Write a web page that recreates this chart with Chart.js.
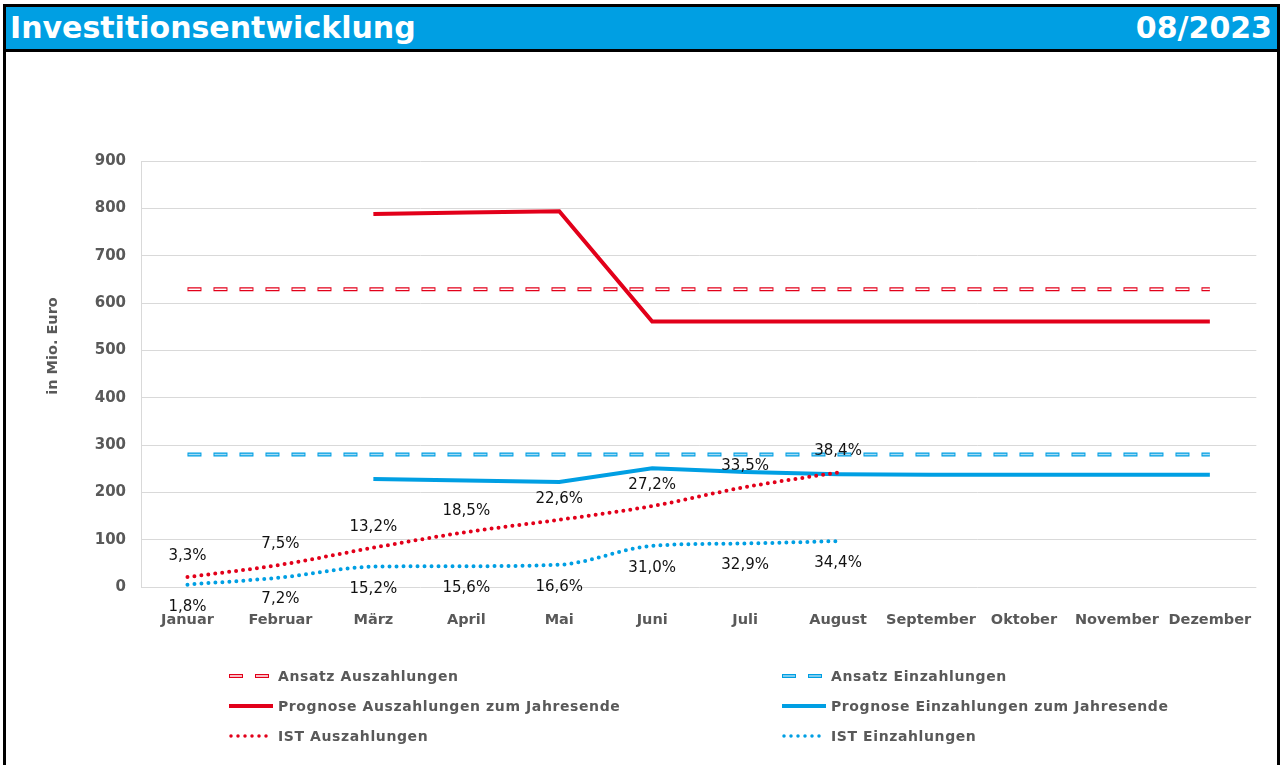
<!DOCTYPE html>
<html><head><meta charset="utf-8">
<script src="https://cdn.jsdelivr.net/npm/chart.js@4.4.0/dist/chart.umd.min.js"></script>
<style>
html,body{margin:0;padding:0;background:#fff;width:1282px;height:765px;overflow:hidden;font-family:"DejaVu Sans",Verdana,sans-serif;}
#frame{position:absolute;left:3px;top:4px;width:1271px;height:800px;border:3px solid #000;border-bottom:none;}
#hdr{position:absolute;left:0;top:0;width:1271px;height:42px;background:#009FE3;border-bottom:3px solid #000;color:#fff;font-weight:bold;font-size:30px;line-height:42px;}
#hdr .l{position:absolute;left:4px;top:0;}
#hdr .r{position:absolute;right:5px;top:0;}
#wrap{position:absolute;left:6px;top:52px;width:1271px;height:713px;}
#ytitle{position:absolute;left:-48px;top:337px;width:200px;height:18px;line-height:18px;text-align:center;transform:rotate(-90deg);font-weight:bold;font-size:14.5px;color:#595959;}
.lg{position:absolute;height:20px;display:flex;align-items:center;font-weight:bold;font-size:14px;letter-spacing:0.6px;color:#595959;white-space:nowrap;}
.lg svg{width:49px;height:20px;flex:none;}
</style>
</head><body>
<div id="frame"><div id="hdr"><span class="l">Investitionsentwicklung</span><span class="r">08/2023</span></div></div>
<div id="wrap"><canvas id="c"></canvas></div>
<div id="ytitle">in Mio. Euro</div>
<div id="legend"></div>
<script>
// ---- data ----
const categories = ['Januar','Februar','März','April','Mai','Juni','Juli','August','September','Oktober','November','Dezember'];
const ansatzAus = [629,629,629,629,629,629,629,629,629,629,629,629];
const ansatzEin = [280,280,280,280,280,280,280,280,280,280,280,280];
const prognoseAus = [null,null,788,791,794,561,561,561,561,561,561,561];
const prognoseEin = [null,null,228,225,222,251,243,238,237,237,237,237];
const istAus = [21,47,83,116,142,171,211,242];
const istEin = [5,20,43,44,47,87,92,97];
const istAusPct = ['3,3%','7,5%','13,2%','18,5%','22,6%','27,2%','33,5%','38,4%'];
const istEinPct = ['1,8%','7,2%','15,2%','15,6%','16,6%','31,0%','32,9%','34,4%'];
const yTicks = [0,100,200,300,400,500,600,700,800,900];
const legendLabels = ['Ansatz Auszahlungen','Ansatz Einzahlungen','Prognose Auszahlungen zum Jahresende','Prognose Einzahlungen zum Jahresende','IST Auszahlungen','IST Einzahlungen'];

const RED = '#E2001A', BLUE = '#009FE3', RED_IN = '#ffffff', BLUE_IN = '#a6dbf4';
Chart.defaults.font.family = "'DejaVu Sans', Verdana, sans-serif";

const pctPlugin = {
  id: 'pct',
  afterDatasetsDraw(chart) {
    const ctx = chart.ctx;
    chart.data.datasets.forEach((ds, i) => {
      if (!ds.pctLabels) return;
      const meta = chart.getDatasetMeta(i);
      ctx.save();
      ctx.font = "15px 'DejaVu Sans', Verdana, sans-serif";
      ctx.fillStyle = '#111';
      ctx.textAlign = 'center';
      ctx.textBaseline = 'middle';
      meta.data.forEach((pt, j) => {
        if (ds.pctLabels[j] == null) return;
        ctx.fillText(ds.pctLabels[j], pt.x, pt.y + ds.labelOffset);
      });
      ctx.restore();
    });
  }
};

const base = {pointRadius:0, pointHoverRadius:0, fill:false, tension:0, borderCapStyle:'butt'};
new Chart(document.getElementById('c'), {
  type: 'line',
  data: {
    labels: categories,
    datasets: [
      Object.assign({}, base, {label:'inner1', data: ansatzAus, borderColor: RED_IN, borderWidth:1.5, borderDash:[12,14], borderDashOffset:-1}),
      Object.assign({}, base, {label:'inner2', data: ansatzEin, borderColor: BLUE_IN, borderWidth:1.5, borderDash:[12,14], borderDashOffset:-1}),
      Object.assign({}, base, {label:legendLabels[4], data: istAus, borderColor: RED, borderWidth:4, borderDash:[0,7], borderCapStyle:'round', cubicInterpolationMode:'monotone', pctLabels: istAusPct, labelOffset:-21}),
      Object.assign({}, base, {label:legendLabels[5], data: istEin, borderColor: BLUE, borderWidth:4, borderDash:[0,7], borderCapStyle:'round', cubicInterpolationMode:'monotone', pctLabels: istEinPct, labelOffset:22}),
      Object.assign({}, base, {label:legendLabels[0], data: ansatzAus, borderColor: RED, borderWidth:4, borderDash:[14,12]}),
      Object.assign({}, base, {label:legendLabels[1], data: ansatzEin, borderColor: BLUE, borderWidth:4, borderDash:[14,12]}),
      Object.assign({}, base, {label:legendLabels[2], data: prognoseAus, borderColor: RED, borderWidth:4}),
      Object.assign({}, base, {label:legendLabels[3], data: prognoseEin, borderColor: BLUE, borderWidth:4})
    ]
  },
  options: {
    responsive: true, maintainAspectRatio: false, animation: false,
    layout: {padding: {top:109, right:20, left:0, bottom:0}},
    plugins: {legend:{display:false}, tooltip:{enabled:false}, title:{display:false}},
    scales: {
      x: {
        offset: true,
        grid: {display:false, drawTicks:false},
        border: {display:false},
        ticks: {color:'#595959', font:{size:14.5, weight:'bold'}, padding:25, maxRotation:0, autoSkip:false},
        afterFit(s){ s.height = 178; }
      },
      y: {
        min: 0, max: 900,
        afterBuildTicks(s){ s.ticks = yTicks.map(v => ({value:v})); },
        grid: {color:'#d9d9d9', lineWidth:1, drawTicks:false},
        border: {display:true, color:'#d9d9d9'},
        ticks: {color:'#595959', font:{size:15, weight:'bold'}, padding:15},
        afterFit(s){ s.width = 135; }
      }
    }
  },
  plugins: [pctPlugin]
});

// ---- legend (HTML) ----
const sym = {
  dashR: `<svg viewBox="0 0 49 20"><line x1="0" y1="10" x2="41" y2="10" stroke="${RED}" stroke-width="4" stroke-dasharray="14 12"/><line x1="0" y1="10" x2="41" y2="10" stroke="${RED_IN}" stroke-width="1.5" stroke-dasharray="12 14" stroke-dashoffset="-1"/></svg>`,
  dashB: `<svg viewBox="0 0 49 20"><line x1="0" y1="10" x2="41" y2="10" stroke="${BLUE}" stroke-width="4" stroke-dasharray="14 12"/><line x1="0" y1="10" x2="41" y2="10" stroke="${BLUE_IN}" stroke-width="1.5" stroke-dasharray="12 14" stroke-dashoffset="-1"/></svg>`,
  solidR: `<svg viewBox="0 0 49 20"><line x1="0" y1="10" x2="44" y2="10" stroke="${RED}" stroke-width="4"/></svg>`,
  solidB: `<svg viewBox="0 0 49 20"><line x1="0" y1="10" x2="44" y2="10" stroke="${BLUE}" stroke-width="4"/></svg>`,
  dotR: `<svg viewBox="0 0 49 20"><line x1="2" y1="10" x2="40" y2="10" stroke="${RED}" stroke-width="3.5" stroke-linecap="round" stroke-dasharray="0 7"/></svg>`,
  dotB: `<svg viewBox="0 0 49 20"><line x1="2" y1="10" x2="40" y2="10" stroke="${BLUE}" stroke-width="3.5" stroke-linecap="round" stroke-dasharray="0 7"/></svg>`
};
const items = [
  [legendLabels[0], sym.dashR, 229, 676], [legendLabels[1], sym.dashB, 782, 676],
  [legendLabels[2], sym.solidR, 229, 706], [legendLabels[3], sym.solidB, 782, 706],
  [legendLabels[4], sym.dotR, 229, 736], [legendLabels[5], sym.dotB, 782, 736]
];
const lg = document.getElementById('legend');
items.forEach(([t, s, x, y]) => {
  const d = document.createElement('div');
  d.className = 'lg';
  d.style.left = x + 'px';
  d.style.top = (y - 10) + 'px';
  d.innerHTML = s + '<span></span>';
  d.querySelector('span').textContent = t;
  lg.appendChild(d);
});
</script>
</body></html>
